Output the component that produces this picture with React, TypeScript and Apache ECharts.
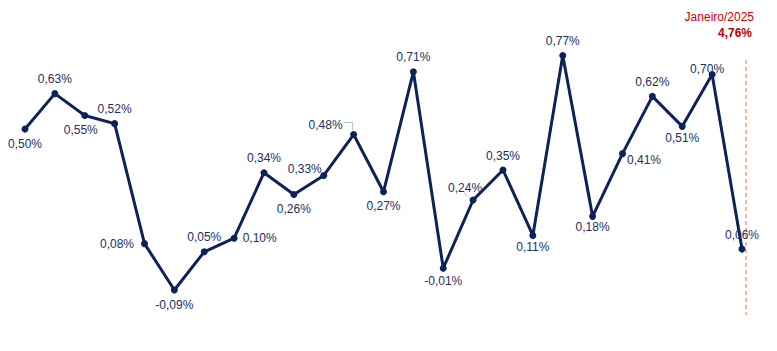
import React, { useEffect, useRef } from "react";
import * as echarts from "echarts";

const categories = [
  "jan/23", "fev/23", "mar/23", "abr/23", "mai/23", "jun/23", "jul/23", "ago/23", "set/23", "out/23", "nov/23", "dez/23",
  "jan/24", "fev/24", "mar/24", "abr/24", "mai/24", "jun/24", "jul/24", "ago/24", "set/24", "out/24", "nov/24", "dez/24",
  "jan/25",
];
const values = [
  0.5, 0.63, 0.55, 0.52, 0.08, -0.09, 0.05, 0.1, 0.34, 0.26, 0.33, 0.48, 0.27, 0.71, -0.01, 0.24, 0.35, 0.11, 0.77, 0.18,
  0.41, 0.62, 0.51, 0.7, 0.06,
];
const annotationTitle = "Janeiro/2025";
const annotationValue = "4,76%";

// label placement (style only)
const labelPlacement: Record<number, { position: string; offset?: [number, number] }> = {
  0: { position: "bottom" },
  1: { position: "top" },
  2: { position: "bottom", offset: [-4, 0] },
  3: { position: "top" },
  4: { position: "left", offset: [-2, 0] },
  5: { position: "bottom" },
  6: { position: "top" },
  7: { position: "right" },
  8: { position: "top" },
  9: { position: "bottom" },
  10: { position: "top", offset: [-19, 8] },
  11: { position: "top", offset: [-28, 5] },
  12: { position: "bottom" },
  13: { position: "top" },
  14: { position: "bottom", offset: [0, -2] },
  15: { position: "top", offset: [-8, 2] },
  16: { position: "top" },
  17: { position: "bottom", offset: [0, -3] },
  18: { position: "top" },
  19: { position: "bottom", offset: [0, -4] },
  20: { position: "right", offset: [-4, 6] },
  21: { position: "top" },
  22: { position: "bottom", offset: [0, -3] },
  23: { position: "top", offset: [-5, 9] },
  24: { position: "top" },
};

const fmt = (v: number) => v.toFixed(2).replace(".", ",") + "%";
const FONT = "Liberation Sans, Arial, sans-serif";

export default function App() {
  const ref = useRef<HTMLDivElement>(null);
  useEffect(() => {
    if (!ref.current) return;
    const chart = echarts.init(ref.current, undefined, { renderer: "svg" });
    const data = values.map((v, i) => {
      const p = labelPlacement[i] || { position: "top" };
      return {
        value: v,
        label: { position: p.position as any, offset: p.offset || [0, 0] },
      };
    });
    chart.setOption({
      animation: false,
      grid: { left: 17, right: 27, top: 12, bottom: 31 },
      xAxis: {
        type: "category",
        data: categories,
        boundaryGap: false,
        show: false,
      },
      yAxis: { type: "value", min: -0.2, max: 0.9, show: false },
      series: [
        {
          type: "line",
          data,
          symbol: "circle",
          symbolSize: 7,
          itemStyle: { color: "#0c2259" },
          lineStyle: { color: "#0c2259", width: 3 },
          label: {
            show: true,
            formatter: (p: any) => fmt(p.value),
            color: "#1c2f5e",
            fontSize: 12,
            fontFamily: FONT,
          },
        },
      ],
    });

    const last = values.length - 1;
    const pLast = chart.convertToPixel({ xAxisIndex: 0, yAxisIndex: 0 }, [last, values[last]]) as number[];
    const p11 = chart.convertToPixel({ xAxisIndex: 0, yAxisIndex: 0 }, [11, values[11]]) as number[];
    const p15 = chart.convertToPixel({ xAxisIndex: 0, yAxisIndex: 0 }, [15, values[15]]) as number[];
    const lx = pLast[0] + 4;
    chart.setOption({
      graphic: [
        {
          type: "line",
          shape: { x1: lx, y1: 52, x2: lx, y2: 307 },
          style: { stroke: "#f4895a", lineWidth: 1.2, lineDash: [4, 3] },
          z: 1,
        },
        {
          type: "polyline",
          shape: { points: [[p11[0] - 10, p11[1] - 12], [p11[0] - 1, p11[1] - 12], [p11[0] - 1, p11[1] - 4]] },
          style: { stroke: "#bdbdbd", lineWidth: 1, fill: "none" },
        },
        {
          type: "line",
          shape: { x1: p15[0] - 9, y1: p15[1] - 7, x2: p15[0] - 2, y2: p15[1] - 1 },
          style: { stroke: "#bdbdbd", lineWidth: 1 },
        },
        {
          type: "text",
          right: 15,
          top: 3,
          style: { text: annotationTitle, fill: "#cc0000", font: `12px ${FONT}`, textAlign: "right" },
        },
        {
          type: "text",
          right: 17,
          top: 19,
          style: { text: annotationValue, fill: "#b80000", font: `bold 12px ${FONT}`, textAlign: "right" },
        },
      ],
    });
    return () => chart.dispose();
  }, []);
  return <div ref={ref} style={{ width: 761, height: 343 }} />;
}
